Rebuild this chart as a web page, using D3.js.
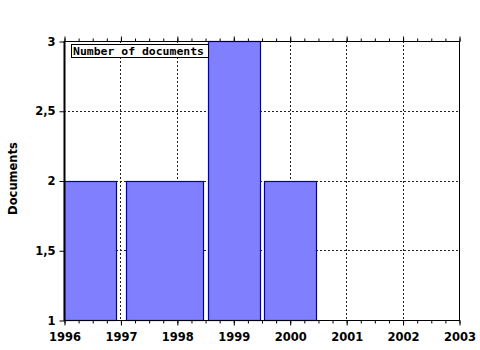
<!DOCTYPE html>
<html lang="en">
<head>
<meta charset="UTF-8">
<title>Documents per year</title>
<script src="https://d3js.org/d3.v7.min.js"></script>
<style>
  body { margin: 0; background: #fff; }
  .tick text { font-family: "DejaVu Sans", sans-serif; font-weight: bold; font-size: 11.5px; fill: #000; }
  .grid line { stroke: #222; stroke-dasharray: 2,2; }
</style>
</head>
<body>
<div id="chart"></div>
<script>
// bar data: start / end year and value
const barStart = [1996, 1997.1, 1998.56, 1999.55];
const barEnd   = [1996.92, 1998.46, 1999.47, 2000.46];
const barValue = [2, 2, 3, 2];

const yearTicks = [1996, 1997, 1998, 1999, 2000, 2001, 2002, 2003];
const valueTicks = [1, 1.5, 2, 2.5, 3];
const legendLabel = "Number of documents";
const yTitle = "Documents";

const W = 480, H = 350;
const margin = { top: 41, right: 21, bottom: 30, left: 64 };
const w = W - margin.left - margin.right;
const h = H - margin.top - margin.bottom;

const svg = d3.select("#chart").append("svg")
  .attr("width", W).attr("height", H);
const g = svg.append("g").attr("transform", `translate(${margin.left},${margin.top})`);

const x = d3.scaleLinear().domain([1996, 2003]).range([0, w]);
const y = d3.scaleLinear().domain([1, 3]).range([h, 0]);

// grid
g.append("g").attr("class", "grid")
  .selectAll("line").data(yearTicks.slice(1, -1)).enter().append("line")
  .attr("x1", d => Math.round(x(d)) + 0.5).attr("x2", d => Math.round(x(d)) + 0.5)
  .attr("y1", 0).attr("y2", h);
g.append("g").attr("class", "grid")
  .selectAll("line").data(valueTicks.slice(1, -1)).enter().append("line")
  .attr("y1", d => Math.round(y(d)) + 0.5).attr("y2", d => Math.round(y(d)) + 0.5)
  .attr("x1", 0).attr("x2", w);

// bars
g.selectAll(".bar").data(barValue).enter().append("rect")
  .attr("class", "bar")
  .attr("x", (d, i) => Math.round(x(barStart[i])) + 0.5)
  .attr("width", (d, i) => Math.round(x(barEnd[i])) - Math.round(x(barStart[i])))
  .attr("y", d => Math.round(y(d)) + 0.5)
  .attr("height", d => Math.round(y(1)) - Math.round(y(d)))
  .attr("fill", "#8080ff")
  .attr("stroke", "#0000a8")
  .attr("stroke-width", 1.2);

// frame
g.append("rect").attr("x", 0.5).attr("y", 0.5).attr("width", w).attr("height", h)
  .attr("fill", "none").attr("stroke", "#000").attr("stroke-width", 1);
g.append("line").attr("x1", 0.5).attr("x2", 0.5).attr("y1", 0).attr("y2", h + 1)
  .attr("stroke", "#000").attr("stroke-width", 2);
g.append("line").attr("x1", 0).attr("x2", w + 1).attr("y1", h + 0.5).attr("y2", h + 0.5)
  .attr("stroke", "#000").attr("stroke-width", 1);

// minor ticks every quarter year
const minor = d3.range(1996, 2003.01, 0.25);
const xMinorB = d3.axisBottom(x).tickValues(minor).tickSize(3).tickFormat("");
const xMinorT = d3.axisTop(x).tickValues(minor).tickSize(3).tickFormat("");
g.append("g").attr("transform", `translate(0.5,${h + 0.5})`).call(xMinorB).call(a => a.select(".domain").remove());
g.append("g").attr("transform", `translate(0.5,0.5)`).call(xMinorT).call(a => a.select(".domain").remove());
g.append("g").attr("transform", `translate(0.5,0.5)`)
  .call(d3.axisTop(x).tickValues(yearTicks).tickSize(5).tickFormat(""))
  .call(a => a.select(".domain").remove());

// x axis
g.append("g").attr("transform", `translate(0.5,${h + 0.5})`)
  .call(d3.axisBottom(x).tickValues(yearTicks).tickSize(5).tickPadding(7).tickFormat(d3.format("d")))
  .call(a => a.select(".domain").remove());

// y axis
g.append("g").attr("transform", `translate(0.5,0.5)`)
  .call(d3.axisLeft(y).tickValues(valueTicks).tickSize(5).tickPadding(4)
    .tickFormat(d => d3.format("")(d).replace(".", ",")))
  .call(a => a.select(".domain").remove());

// y title
svg.append("text")
  .attr("transform", `translate(17,${margin.top + h / 2 - 2}) rotate(-90)`)
  .attr("text-anchor", "middle")
  .style("font-family", "DejaVu Sans, sans-serif")
  .style("font-weight", "bold").style("font-size", "11.5px")
  .text(yTitle);

// legend
const lg = g.append("g").attr("transform", "translate(7,3)");
lg.append("rect").attr("x", 0.5).attr("y", 0.5).attr("width", 137).attr("height", 13)
  .attr("fill", "#fff").attr("stroke", "#000");
lg.append("text").attr("x", 2).attr("y", 11)
  .style("font-family", "DejaVu Sans Mono, monospace")
  .style("font-weight", "bold").style("font-size", "11px")
  .attr("textLength", 131).attr("lengthAdjust", "spacingAndGlyphs")
  .text(legendLabel);
</script>
</body>
</html>
